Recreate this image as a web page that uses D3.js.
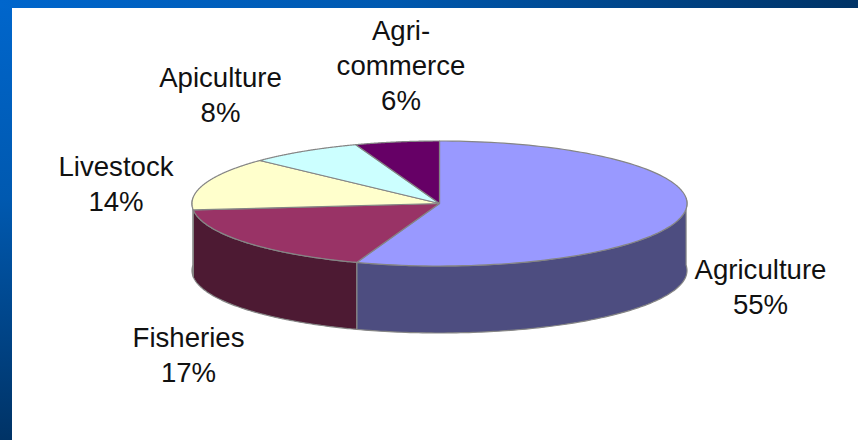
<!DOCTYPE html>
<html>
<head>
<meta charset="utf-8">
<script src="https://cdnjs.cloudflare.com/ajax/libs/d3/7.8.5/d3.min.js"></script>
<style>
  html, body { margin: 0; padding: 0; background: #fff; }
  svg { display: block; }
  text { font-family: "Liberation Sans", Arial, sans-serif; font-size: 27.6px; fill: #111; text-anchor: middle; }
</style>
</head>
<body>
<svg id="chart" width="858" height="440"></svg>
<script>
// Sectors of the economy and their shares, in percent
const sectors = ["Agriculture", "Fisheries", "Livestock", "Apiculture", "Agri-commerce"];
const shares = [55, 17, 14, 8, 6];
const topColors = ["#9999ff", "#993366", "#ffffcc", "#ccffff", "#660066"];
const wallColors = ["#4d4d80", "#4d1a33", "#808066", "#668080", "#330033"];
const labelLines = [["Agriculture"], ["Fisheries"], ["Livestock"], ["Apiculture"], ["Agri-", "commerce"]];
const labelAnchors = [[760.5, 279], [188.5, 346.5], [116, 176], [220.5, 87], [401, 39.5]];

const svg = d3.select("#chart");
const width = 858, height = 440;
const cx = 439.5, cy = 203.5, rx = 247.5, ry = 62.5, depth = 67;

// Slide frame: blue bands along the top and left edges, fading towards navy
const defs = svg.append("defs");
const addFade = (id, x2, y2) => {
  const g = defs.append("linearGradient").attr("id", id)
    .attr("x1", 0).attr("y1", 0).attr("x2", x2).attr("y2", y2);
  g.append("stop").attr("offset", 0).attr("stop-color", "#0066cc");
  g.append("stop").attr("offset", 0.45).attr("stop-color", "#0059b0");
  g.append("stop").attr("offset", 1).attr("stop-color", "#003366");
};
addFade("frameLeft", 0, 1);
addFade("frameTop", 1, 0);
svg.append("rect").attr("width", 12).attr("height", height).attr("fill", "url(#frameLeft)");
svg.append("rect").attr("width", width).attr("height", 8).attr("fill", "url(#frameTop)");

// Slice angles come straight from the shares
const pie = d3.pie().sort(null).startAngle(0).endAngle(2 * Math.PI);
const slices = pie(shares);

// Slight perspective: the near side of the disc reads a little larger
const tilt = a => a + (5 * Math.PI / 180) * Math.sin(a - Math.PI);
const onRim = (a, dy = 0) => {
  const t = tilt(a);
  return [cx + rx * Math.sin(t), cy - ry * Math.cos(t) + dy];
};
const arcPoints = (a0, a1, dy = 0) =>
  d3.range(0, 121).map(i => onRim(a0 + (a1 - a0) * i / 120, dy));

const line = d3.line();
const edge = "#858585";

// Outer wall, visible only along the front half of the rim
const frontStart = Math.PI / 2, frontEnd = 3 * Math.PI / 2;
const walls = svg.append("g");
slices.forEach((s, i) => {
  const a0 = Math.max(s.startAngle, frontStart);
  const a1 = Math.min(s.endAngle, frontEnd);
  if (a1 <= a0) return;
  const upper = arcPoints(a0, a1);
  const lower = arcPoints(a0, a1, depth).reverse();
  walls.append("path")
    .attr("d", line(upper.concat(lower)) + "Z")
    .attr("fill", wallColors[i])
    .attr("stroke", edge).attr("stroke-width", 1.2).attr("stroke-linejoin", "round");
});

// Top face of the disc
const faces = svg.append("g");
slices.forEach((s, i) => {
  const pts = [[cx, cy]].concat(arcPoints(s.startAngle, s.endAngle));
  faces.append("path")
    .attr("d", line(pts) + "Z")
    .attr("fill", topColors[i])
    .attr("stroke", edge).attr("stroke-width", 1.2).attr("stroke-linejoin", "round");
});

// Labels: category name, then the share
const lineGap = 35;
const labels = svg.append("g");
sectors.forEach((name, i) => {
  const [x, y] = labelAnchors[i];
  const lines = labelLines[i].concat([shares[i] + "%"]);
  const t = labels.append("text").attr("transform", `translate(${x},${y})`);
  lines.forEach((l, j) => t.append("tspan").attr("x", 0).attr("y", j * lineGap).text(l));
});
</script>
</body>
</html>
